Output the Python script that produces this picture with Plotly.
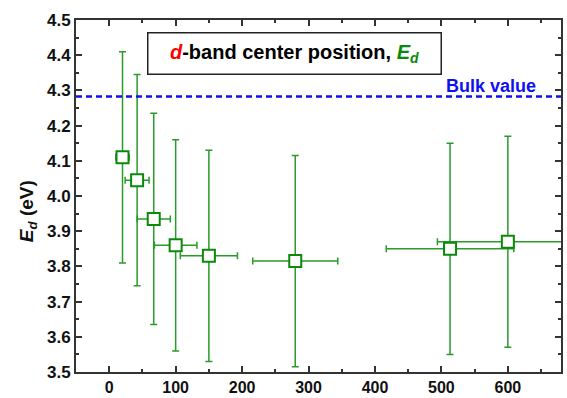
import plotly.graph_objects as go

size_nm = [20, 42, 67, 100, 150, 280, 513, 600]
ed_ev = [4.11, 4.045, 3.935, 3.86, 3.83, 3.815, 3.85, 3.87]
size_err = [10, 18, 25, 32, 43, 64, 96, 106]
ed_err = [0.3, 0.3, 0.3, 0.3, 0.3, 0.3, 0.3, 0.3]
bulk_value = 4.283
x_ticks = [0, 100, 200, 300, 400, 500, 600]
y_ticks = [3.5, 3.6, 3.7, 3.8, 3.9, 4.0, 4.1, 4.2, 4.3, 4.4, 4.5]

FONT = "Liberation Sans, Arial, sans-serif"
GREEN = "#0a8a0a"

fig = go.Figure()
fig.add_trace(go.Scatter(
    x=size_nm, y=ed_ev, mode="markers",
    marker=dict(symbol="square", size=12, color="white",
                line=dict(color=GREEN, width=2)),
    error_y=dict(type="data", array=ed_err, visible=True,
                 color="#2a9a2a", thickness=1.5, width=3.5),
    error_x=dict(type="data", array=size_err, visible=True,
                 color="#2a9a2a", thickness=1.5, width=3.5),
    cliponaxis=True, showlegend=False,
))

fig.add_shape(type="line", xref="paper", x0=0, x1=1, yref="y",
              y0=bulk_value, y1=bulk_value,
              line=dict(color="#1010ee", width=2.5, dash="6px,4px"))

fig.add_annotation(x=575, y=4.313, xref="x", yref="y", text="<b>Bulk value</b>",
                   showarrow=False, xanchor="center", yanchor="middle",
                   font=dict(family=FONT, size=18, color="#1010ee"))

fig.add_annotation(
    x=279.5, y=4.406, xref="x", yref="y",
    text="<b><i><span style='color:#ff0000'>d</span></i>-band center position, "
         "<i><span style='color:#0a8a0a'>E<sub>d</sub></span></i></b>",
    showarrow=False, width=290, height=38, align="center", valign="middle",
    bordercolor="#222", borderwidth=1.5, bgcolor="white",
    font=dict(family=FONT, size=20, color="black"))

fig.add_annotation(
    x=-0.099, y=3.957, xref="paper", yref="y",
    text="<b><i>E<sub>d</sub></i> (eV)</b>", textangle=-90,
    showarrow=False, xanchor="center", yanchor="middle",
    font=dict(family=FONT, size=19, color="#111"))

axis_common = dict(showline=True, linewidth=2, linecolor="#333", mirror="ticks",
                   ticks="inside", ticklen=6, tickwidth=1.5, tickcolor="#333",
                   showgrid=False, zeroline=False, automargin=False)

fig.update_xaxes(range=[-50, 680], tickvals=x_ticks,
                 ticktext=[f"<b>{v}</b>" for v in x_ticks],
                 tickfont=dict(family=FONT, size=16, color="#111"),
                 minor=dict(ticks="inside", ticklen=3, dtick=50, tick0=0,
                            tickcolor="#333", tickwidth=1.5),
                 **axis_common)
fig.update_yaxes(range=[3.5, 4.5], tickvals=y_ticks,
                 ticktext=[f"<b>{v:.1f}</b>" for v in y_ticks],
                 tickfont=dict(family=FONT, size=17, color="#111"),
                 minor=dict(ticks="inside", ticklen=3, dtick=0.05, tick0=3.5,
                            tickcolor="#333", tickwidth=1.5),
                 **axis_common)

fig.update_layout(width=567, height=398,
                  margin=dict(l=76, r=6, t=20, b=26),
                  plot_bgcolor="white", paper_bgcolor="white")

fig.write_html("out.html")
